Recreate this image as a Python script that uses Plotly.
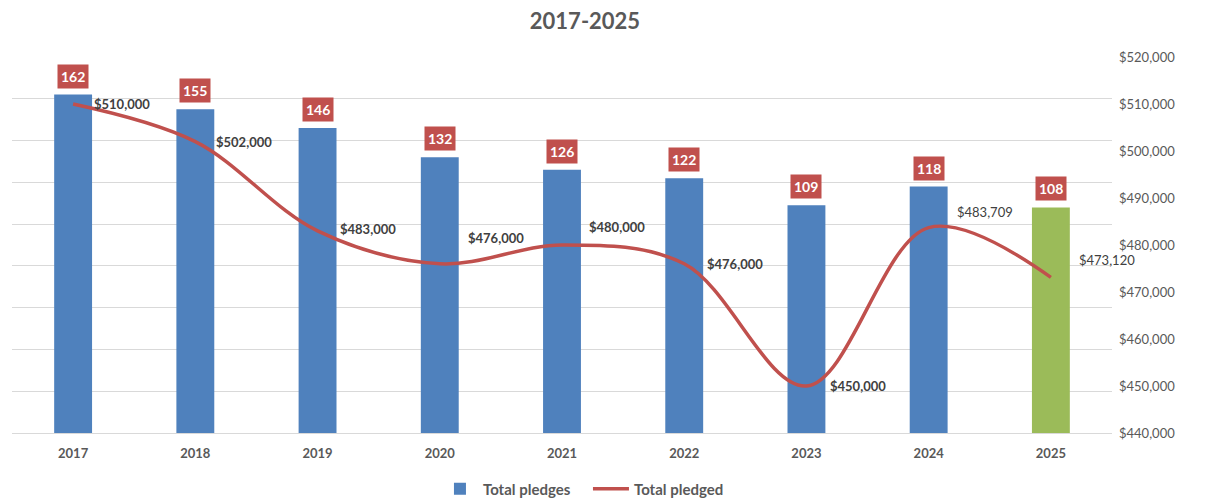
import plotly.graph_objects as go

years = ["2017", "2018", "2019", "2020", "2021", "2022", "2023", "2024", "2025"]
pledges = [162, 155, 146, 132, 126, 122, 109, 118, 108]
pledged = [510000, 502000, 483000, 476000, 480000, 476000, 450000, 483709, 473120]
pledged_labels = ["$510,000", "$502,000", "$483,000", "$476,000", "$480,000",
                  "$476,000", "$450,000", "$483,709", "$473,120"]
right_ticks = [440000, 450000, 460000, 470000, 480000, 490000, 500000, 510000, 520000]

bar_colors = ["#4F81BD"] * 8 + ["#9BBB59"]
FONT = "Lato"
GREY = "#595959"

fig = go.Figure()
fig.add_trace(go.Bar(
    x=years, y=pledges, name="<b>Total pledges</b>",
    marker=dict(color=bar_colors, line=dict(width=0)),
    yaxis="y", width=0.31,
))
fig.add_trace(go.Scatter(
    x=years, y=pledged, name="<b>Total pledged</b>", mode="lines",
    line=dict(color="#C0504D", width=3.5, shape="spline", smoothing=1.0),
    yaxis="y2",
))

annotations = []
# red count boxes above the bars (x given as category index)
for i, v in enumerate(pledges):
    annotations.append(dict(
        x=i, y=v, xref="x", yref="y", yanchor="bottom", yshift=6,
        text=f"<b>{v}</b>", showarrow=False,
        font=dict(family=FONT, size=14, color="white"),
        bgcolor="#C0504D", borderpad=3,
    ))

# line value labels (offsets in pixels)
shifts = [(19, 0), (19, 0), (20, 2), (26, 26), (25, 18), (21, 0), (22, 0), (26, 16), (26, 17)]
bold = [True, True, True, True, True, True, True, False, False]
for i, (v, lab, (dx, dy), b) in enumerate(zip(pledged, pledged_labels, shifts, bold)):
    annotations.append(dict(
        x=i, y=v, xref="x", yref="y2", xanchor="left", yanchor="middle",
        xshift=dx, yshift=dy, showarrow=False,
        text=f"<b>{lab}</b>" if b else lab,
        font=dict(family=FONT, size=13, color="#404040"),
    ))

fig.update_layout(
    width=1205, height=498,
    margin=dict(l=12, r=93, t=57, b=65, autoexpand=False),
    paper_bgcolor="white", plot_bgcolor="white",
    font=dict(family=FONT, color=GREY),
    title=dict(text="<b>2017-2025</b>", x=585 / 1205, xref="container", xanchor="center",
               y=1 - 21 / 498, yanchor="middle",
               font=dict(family=FONT, size=22, color=GREY)),
    xaxis=dict(type="category", range=[-0.5, len(years) - 0.5], autorange=False,
               showgrid=False, showline=True, linecolor="#D9D9D9",
               ticks="", tickfont=dict(family=FONT, size=13, color=GREY),
               tickprefix="<b>", ticksuffix="</b>",
               ticklabelstandoff=8),
    yaxis=dict(range=[0, 180], autorange=False, dtick=20, showgrid=True,
               gridcolor="#D9D9D9", zeroline=False, showticklabels=False,
               showline=False, ticks=""),
    yaxis2=dict(range=[440000, 520000], autorange=False, overlaying="y", side="right",
                tickvals=right_ticks, tickformat="$,.0f",
                showgrid=False, zeroline=False,
                tickfont=dict(family=FONT, size=13, color=GREY),
                ticklabelstandoff=6),
    showlegend=True,
    legend=dict(orientation="h", x=0.5236, xanchor="center", y=-0.149, yanchor="middle",
                font=dict(family=FONT, size=15, color=GREY), traceorder="normal",
                entrywidth=100, entrywidthmode="pixels", itemwidth=36),
    annotations=annotations,
)

fig.write_html("out.html")
